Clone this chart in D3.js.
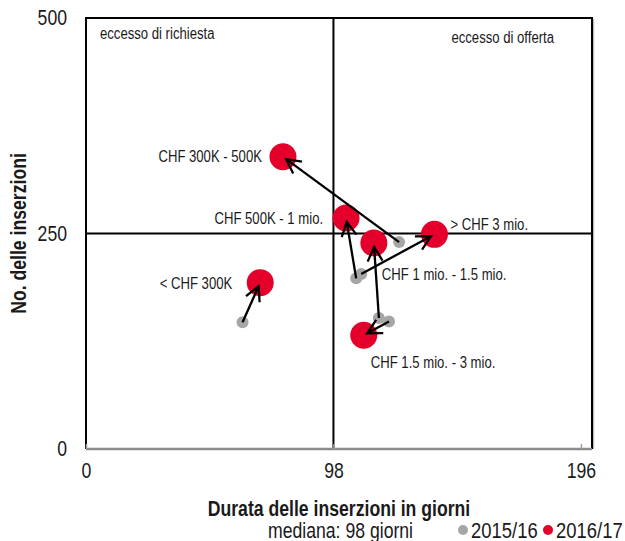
<!DOCTYPE html>
<html>
<head>
<meta charset="utf-8">
<script src="https://cdn.jsdelivr.net/npm/d3@7/dist/d3.min.js"></script>
<style>
  html, body { margin: 0; padding: 0; background: #fff; }
  svg { display: block; }
  text { font-family: "Liberation Sans", Arial, sans-serif; fill: #1a1a1a; }
</style>
</head>
<body>
<svg id="chart" width="625" height="541"></svg>
<script>
// ---- data ----
const categories = ["CHF 300K - 500K", "CHF 500K - 1 mio.", "CHF 1 mio. - 1.5 mio.", "> CHF 3 mio.", "CHF 1.5 mio. - 3 mio.", "< CHF 300K"];
// 2015/16 (gray): duration in days, number of listings
const duration1516 = [124, 107, 116, 109, 120, 62];
const listings1516 = [240, 198, 152, 203, 148, 147];
// 2016/17 (red)
const duration1617 = [78, 103, 114, 138, 110, 69];
const listings1617 = [339, 268, 239, 249, 132, 193];
const xTicks = [0, 98, 196];
const yTicks = [0, 250, 500];
const median = 98;
const yMid = 250;
const seriesNames = ["2015/16", "2016/17"];

// ---- layout ----
const colGray = "#a6a6a6", colRed = "#e4002b";
const NARROW = 0.82; // horizontal condensation to mimic a narrow typeface
const svg = d3.select("#chart");
const x = d3.scaleLinear().domain([0, 200]).range([86, 591]);
const y = d3.scaleLinear().domain([0, 500]).range([449, 18]);

// label placement per category: [dx, dy, anchor]
const labelPos = [
  [-21, 0, "end"],
  [-23, 0, "end"],
  [8, 31, "start"],
  [16, -10, "start"],
  [7, 27, "start"],
  [-28, 1, "end"]
];

function narrowText(parent, px, py, str, size, anchor, bold) {
  return parent.append("text")
    .attr("transform", `translate(${px},${py}) scale(${NARROW},1)`)
    .attr("dy", "0.35em")
    .attr("font-size", size)
    .attr("text-anchor", anchor || "start")
    .attr("font-weight", bold ? "bold" : null)
    .text(str);
}

// frame
svg.append("line").attr("x1", x(0)).attr("x2", 592).attr("y1", y(500)).attr("y2", y(500))
  .attr("stroke", "#000").attr("stroke-width", 2);
svg.append("line").attr("x1", 593.5).attr("x2", 593.5).attr("y1", y(500) + 1).attr("y2", y(0))
  .attr("stroke", "#bbb").attr("stroke-width", 1.5);
svg.append("line").attr("x1", 592).attr("x2", 592).attr("y1", y(500) - 1).attr("y2", y(0))
  .attr("stroke", "#000").attr("stroke-width", 2);
svg.append("line").attr("x1", x(0)).attr("x2", x(0)).attr("y1", y(500) - 1).attr("y2", y(0))
  .attr("stroke", "#000").attr("stroke-width", 2);

// median lines
svg.append("line").attr("x1", x(median)).attr("x2", x(median)).attr("y1", y(500)).attr("y2", y(0))
  .attr("stroke", "#000").attr("stroke-width", 2);
svg.append("line").attr("x1", x(0)).attr("x2", 592).attr("y1", y(yMid)).attr("y2", y(yMid))
  .attr("stroke", "#000").attr("stroke-width", 2);

// bottom axis (gray)
const xAxis = d3.axisBottom(x).tickValues(xTicks).tickSize(-5).tickPadding(14).tickFormat(d3.format("d"));
const gx = svg.append("g").attr("transform", `translate(0,${y(0)})`).call(xAxis);
gx.select(".domain").attr("stroke", "#8c8c8c").attr("stroke-width", 2.5).attr("d", `M${x(0)},0H592`);
gx.selectAll(".tick line").attr("stroke", "#a0a0a0").attr("stroke-width", 1.5);
gx.selectAll(".tick text").attr("font-size", 21.5).attr("fill", "#1a1a1a")
  .attr("transform", `scale(${NARROW},1)`)
  .style("font-family", "'Liberation Sans',Arial,sans-serif");

// left axis labels
const yAxis = d3.axisLeft(y).tickValues(yTicks).tickSize(0).tickPadding(19 / NARROW).tickFormat(d3.format("d"));
const gy = svg.append("g").attr("transform", `translate(${x(0)},0)`).call(yAxis);
gy.select(".domain").remove();
gy.selectAll(".tick text").attr("font-size", 21.5).attr("fill", "#1a1a1a")
  .attr("transform", `scale(${NARROW},1)`)
  .style("font-family", "'Liberation Sans',Arial,sans-serif");

// quadrant labels
narrowText(svg, 100, 33, "eccesso di richiesta", 16, "start");
narrowText(svg, 554, 37, "eccesso di offerta", 16, "end");

// points
const idx = d3.range(categories.length);
svg.append("g").selectAll("circle").data(idx).join("circle")
  .attr("cx", i => x(duration1516[i])).attr("cy", i => y(listings1516[i])).attr("r", 6).attr("fill", colGray);
svg.append("g").selectAll("circle").data(idx).join("circle")
  .attr("cx", i => x(duration1617[i])).attr("cy", i => y(listings1617[i])).attr("r", 13.5).attr("fill", colRed);

// arrows
const arrows = svg.append("g").attr("stroke", "#000").attr("stroke-width", 2.3).attr("fill", "none");
idx.forEach(i => {
  const x0 = x(duration1516[i]), y0 = y(listings1516[i]);
  const x1f = x(duration1617[i]), y1f = y(listings1617[i]);
  const dx = x1f - x0, dy = y1f - y0, L = Math.hypot(dx, dy);
  const ux = dx / L, uy = dy / L;
  const tx = x1f - ux * 4, ty = y1f - uy * 4;
  arrows.append("line").attr("x1", x0).attr("y1", y0).attr("x2", tx).attr("y2", ty);
  const hl = 16, ang = Math.PI / 6.5;
  const a = Math.atan2(uy, ux);
  const p1 = [tx - hl * Math.cos(a - ang), ty - hl * Math.sin(a - ang)];
  const p2 = [tx - hl * Math.cos(a + ang), ty - hl * Math.sin(a + ang)];
  arrows.append("path").attr("d", `M${p1[0]},${p1[1]}L${tx},${ty}L${p2[0]},${p2[1]}`);
});

// category labels
const gl = svg.append("g");
idx.forEach(i => {
  narrowText(gl, x(duration1617[i]) + labelPos[i][0], y(listings1617[i]) + labelPos[i][1],
    categories[i], 16, labelPos[i][2]);
});

// axis titles
svg.append("text").attr("transform", `translate(18,${y(yMid)}) rotate(-90) scale(${NARROW},1)`)
  .attr("text-anchor", "middle").attr("dy", "0.35em").attr("font-size", 21.5).attr("font-weight", "bold")
  .text("No. delle inserzioni");
narrowText(svg, 339, 508, "Durata delle inserzioni in giorni", 21.5, "middle", true);

// median note + legend
narrowText(svg, 268, 530, "mediana: " + median + " giorni", 21.5, "start");
const legX = [463, 548];
const legCol = [colGray, colRed];
seriesNames.forEach((s, i) => {
  svg.append("circle").attr("cx", legX[i]).attr("cy", 530).attr("r", 5).attr("fill", legCol[i]);
  narrowText(svg, legX[i] + 8, 530, s, 22.5, "start");
});
</script>
</body>
</html>
